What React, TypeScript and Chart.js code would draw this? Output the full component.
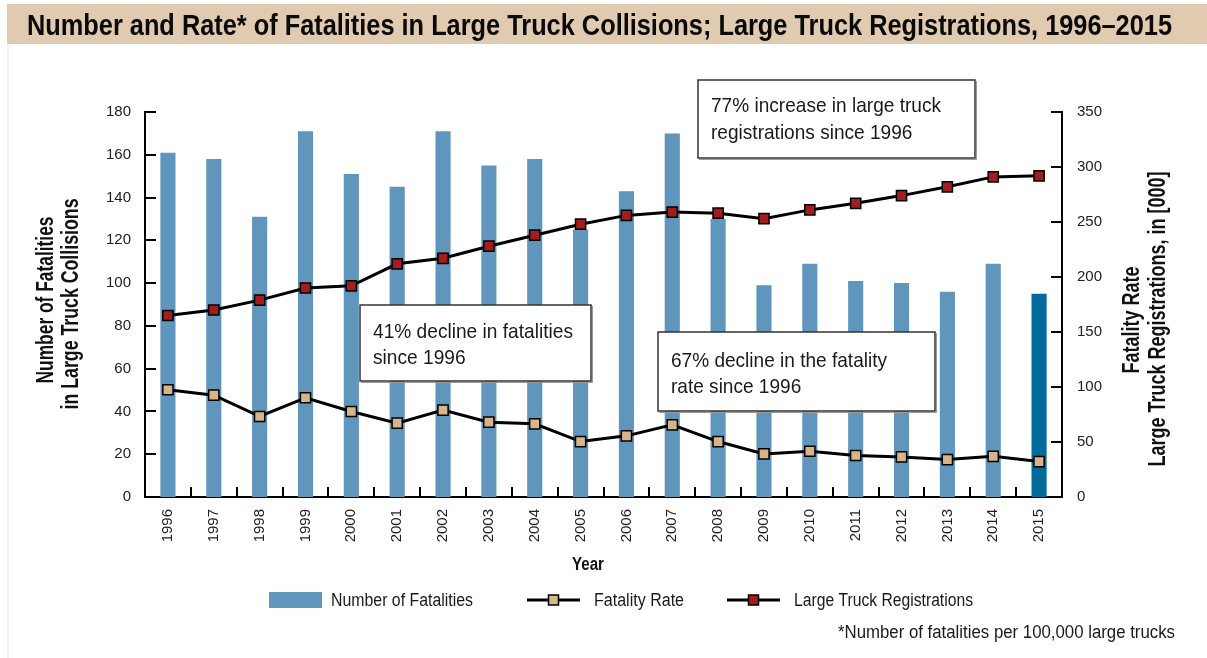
import React, { useEffect, useRef } from 'react';
import { Chart, registerables } from 'chart.js';

Chart.register(...registerables);

const TITLE = 'Number and Rate* of Fatalities in Large Truck Collisions; Large Truck Registrations, 1996\u20132015';

const years = ['1996', '1997', '1998', '1999', '2000', '2001', '2002', '2003', '2004', '2005', '2006', '2007', '2008', '2009', '2010', '2011', '2012', '2013', '2014', '2015'];
const fatalities = [161, 158, 131, 171, 151, 145, 171, 155, 158, 125, 143, 170, 130, 99, 109, 101, 100, 96, 109, 95];
const fatalityRate = [97.5, 92.6, 73.2, 90.2, 77.7, 67.1, 79.0, 68.0, 66.5, 50.4, 55.6, 65.6, 50.4, 39.2, 41.6, 37.7, 36.4, 34.0, 37.0, 32.2];
const registrations = [165, 170, 179, 190, 192, 212, 217, 228, 238, 248, 256, 259, 258, 253, 261, 267, 274, 282, 291, 292];

const leftAxis = { min: 0, max: 180, step: 20 };
const rightAxis = { min: 0, max: 350, step: 50 };

const seriesLabels = ['Number of Fatalities', 'Fatality Rate', 'Large Truck Registrations'];
const leftTitle = ['Number of Fatalities', 'in Large Truck Collisions'];
const rightTitle = ['Fatality Rate', 'Large Truck Registrations, in [000]'];
const xTitle = 'Year';
const footnote = '*Number of fatalities per 100,000 large trucks';

const annotations = [
  { lines: ['41% decline in fatalities', 'since 1996'], box: [360, 305, 231, 76], tx: 373, by: [338, 364], w: 200 },
  { lines: ['67% decline in the fatality', 'rate since 1996'], box: [658, 332, 277, 79], tx: 671, by: [367, 393], w: 216 },
  { lines: ['77% increase in large truck', 'registrations since 1996'], box: [698, 80, 277, 78], tx: 711, by: [112, 139], w: 230 },
];

const FONT = '"Liberation Sans", Arial, Helvetica, sans-serif';
const BAR = '#6096bc';
const BAR_LAST = '#026b9a';
const RED = '#a31c20';
const TAN = '#d8b48a';

function drawFit(ctx: CanvasRenderingContext2D, text: string, x: number, y: number, width: number | null, font: string, opts: any = {}) {
  ctx.save();
  ctx.font = font;
  const w = ctx.measureText(text).width;
  const s = opts.scale ?? (width ? width / w : 1);
  ctx.translate(x, y);
  if (opts.rotate) ctx.rotate(opts.rotate);
  ctx.scale(s, 1);
  ctx.textAlign = opts.align || 'left';
  ctx.textBaseline = 'alphabetic';
  ctx.fillStyle = opts.color || '#111';
  ctx.fillText(text, 0, 0);
  ctx.restore();
  return s;
}

function marker(ctx: CanvasRenderingContext2D, x: number, y: number, fill: string) {
  const s = 10;
  ctx.fillStyle = fill;
  ctx.fillRect(x - s / 2, y - s / 2, s, s);
  ctx.strokeStyle = '#000';
  ctx.lineWidth = 1.5;
  ctx.strokeRect(x - s / 2, y - s / 2, s, s);
}

const decor = {
  id: 'decor',
  afterDraw(chart: any) {
    const ctx: CanvasRenderingContext2D = chart.ctx;
    const { left, right, bottom } = chart.chartArea;
    const xs = chart.scales.x;
    const ys = chart.scales.y;
    const y1 = chart.scales.y1;
    ctx.save();
    // inside tick marks
    ctx.strokeStyle = '#000';
    ctx.lineWidth = 2;
    ctx.beginPath();
    ys.ticks.forEach((t: any) => {
      if (t.value === 0) return;
      const py = Math.round(ys.getPixelForValue(t.value));
      ctx.moveTo(left, py);
      ctx.lineTo(left + 11, py);
    });
    y1.ticks.forEach((t: any) => {
      if (t.value === 0) return;
      const py = Math.round(y1.getPixelForValue(t.value));
      ctx.moveTo(right, py);
      ctx.lineTo(right - 11, py);
    });
    for (let i = 1; i < years.length; i++) {
      const px = Math.round((xs.getPixelForValue(i - 1) + xs.getPixelForValue(i)) / 2);
      ctx.moveTo(px, bottom);
      ctx.lineTo(px, bottom - 10);
    }
    ctx.stroke();

    // axis titles
    const tf = `bold 23px ${FONT}`;
    drawFit(ctx, leftTitle[0], 53, 300, 167, tf, { rotate: -Math.PI / 2, align: 'center' });
    drawFit(ctx, leftTitle[1], 78, 304, 211, tf, { rotate: -Math.PI / 2, align: 'center' });
    drawFit(ctx, rightTitle[0], 1139, 320, 107, tf, { rotate: -Math.PI / 2, align: 'center' });
    drawFit(ctx, rightTitle[1], 1165, 319, 295, tf, { rotate: -Math.PI / 2, align: 'center' });
    drawFit(ctx, xTitle, 588, 570, 32, `bold 18px ${FONT}`, { align: 'center' });

    // annotation boxes
    annotations.forEach((a) => {
      const [bx, by, bw, bh] = a.box;
      ctx.fillStyle = '#fff';
      ctx.fillRect(bx, by, bw, bh);
      ctx.strokeStyle = '#9a9a9a';
      ctx.lineWidth = 1;
      ctx.beginPath();
      ctx.moveTo(bx + bw + 1.5, by + 1);
      ctx.lineTo(bx + bw + 1.5, by + bh + 1.5);
      ctx.lineTo(bx + 1, by + bh + 1.5);
      ctx.stroke();
      ctx.strokeStyle = '#333';
      ctx.lineWidth = 1.5;
      ctx.strokeRect(bx, by, bw, bh);
      const f = `21px ${FONT}`;
      const s = drawFit(ctx, a.lines[0], a.tx, a.by[0], a.w, f, { color: '#1a1a1a' });
      drawFit(ctx, a.lines[1], a.tx, a.by[1], null, f, { scale: s, color: '#1a1a1a' });
    });

    // legend
    const lf = `18px ${FONT}`;
    ctx.fillStyle = BAR;
    ctx.fillRect(269, 592, 53, 16);
    drawFit(ctx, seriesLabels[0], 331, 606, 142, lf, { color: '#1a1a1a' });
    [[527, TAN, seriesLabels[1], 594, 90], [727, RED, seriesLabels[2], 794, 179]].forEach((l: any) => {
      ctx.strokeStyle = '#000';
      ctx.lineWidth = 3;
      ctx.beginPath();
      ctx.moveTo(l[0], 600);
      ctx.lineTo(l[0] + 53, 600);
      ctx.stroke();
      marker(ctx, l[0] + 26.5, 600, l[1]);
      drawFit(ctx, l[2], l[3], 606, l[4], lf, { color: '#1a1a1a' });
    });

    // footnote
    drawFit(ctx, footnote, 838, 638, 337, `18px ${FONT}`, { color: '#1a1a1a' });
    ctx.restore();
  },
};

export default function App() {
  const ref = useRef<HTMLCanvasElement | null>(null);

  let titleScale = 0.85;
  if (typeof document !== 'undefined') {
    const c = document.createElement('canvas').getContext('2d');
    if (c) {
      c.font = `bold 29px ${FONT}`;
      titleScale = 1145 / c.measureText(TITLE).width;
    }
  }

  useEffect(() => {
    if (!ref.current) return;
    Chart.defaults.font.family = FONT;
    const chart = new Chart(ref.current, {
      type: 'bar',
      data: {
        labels: years,
        datasets: [
          {
            type: 'bar',
            label: seriesLabels[0],
            data: fatalities,
            yAxisID: 'y',
            backgroundColor: fatalities.map((_, i) => (i === fatalities.length - 1 ? BAR_LAST : BAR)),
            borderWidth: 0,
            barPercentage: 0.33,
            categoryPercentage: 1,
            order: 3,
          },
          {
            type: 'line',
            label: seriesLabels[1],
            data: fatalityRate,
            yAxisID: 'y1',
            borderColor: '#000',
            borderWidth: 3,
            tension: 0,
            pointStyle: 'rect',
            pointRadius: 7.2,
            pointBackgroundColor: TAN,
            pointBorderColor: '#000',
            pointBorderWidth: 1.5,
            order: 2,
          },
          {
            type: 'line',
            label: seriesLabels[2],
            data: registrations,
            yAxisID: 'y1',
            borderColor: '#000',
            borderWidth: 3,
            tension: 0,
            pointStyle: 'rect',
            pointRadius: 7.2,
            pointBackgroundColor: RED,
            pointBorderColor: '#000',
            pointBorderWidth: 1.5,
            order: 1,
          },
        ],
      },
      options: {
        responsive: false,
        animation: false,
        events: [],
        layout: { padding: { top: 112, left: 0, right: 0, bottom: 0 } },
        plugins: { legend: { display: false }, tooltip: { enabled: false }, title: { display: false } },
        scales: {
          x: {
            grid: { display: false, drawTicks: false },
            border: { display: true, color: '#000', width: 2 },
            ticks: { minRotation: 90, maxRotation: 90, padding: 12, color: '#222', font: { size: 15 } },
            afterFit: (s: any) => { s.height = 161; },
          },
          y: {
            position: 'left',
            min: leftAxis.min,
            max: leftAxis.max,
            grid: { display: false, drawTicks: false },
            border: { display: true, color: '#000', width: 2 },
            ticks: { stepSize: leftAxis.step, padding: 14, color: '#222', font: { size: 15 } },
            afterFit: (s: any) => { s.width = 145; },
          },
          y1: {
            position: 'right',
            min: rightAxis.min,
            max: rightAxis.max,
            grid: { display: false, drawTicks: false },
            border: { display: true, color: '#000', width: 2 },
            ticks: { stepSize: rightAxis.step, padding: 15, color: '#222', font: { size: 15 } },
            afterFit: (s: any) => { s.width = 145; },
          },
        },
      },
      plugins: [decor],
    } as any);
    return () => chart.destroy();
  }, []);

  return (
    <div style={{ position: 'absolute', left: 0, top: 0, width: 1207, height: 658, background: '#fff', overflow: 'hidden' }}>
      <div style={{ position: 'absolute', left: 7, top: 45, width: 2, height: 613, background: '#f8f1e9' }} />
      <canvas ref={ref} width={1207} height={658} style={{ position: 'absolute', left: 0, top: 0, width: 1207, height: 658 }} />
      <div style={{ position: 'absolute', left: 7, top: 4, width: 1200, height: 40, background: '#e0cab0' }}>
        <span
          style={{
            position: 'absolute',
            left: 20,
            top: 1,
            lineHeight: '40px',
            fontFamily: FONT,
            fontWeight: 'bold',
            fontSize: 29,
            color: '#0a0a0a',
            whiteSpace: 'nowrap',
            transform: `scaleX(${titleScale})`,
            transformOrigin: 'left center',
          }}
        >
          {TITLE}
        </span>
      </div>
    </div>
  );
}
